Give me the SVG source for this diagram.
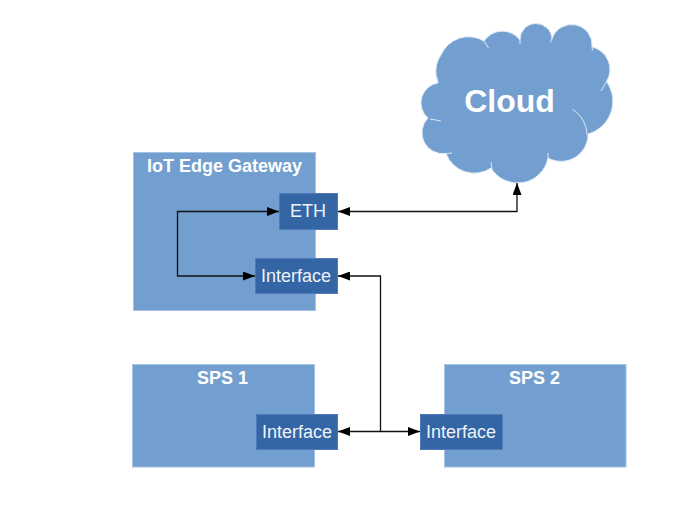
<svg xmlns="http://www.w3.org/2000/svg" width="687" height="514" viewBox="0 0 687 514">
<style>
.box{fill:#729fcf;stroke:#a5c2e3;stroke-width:1}
.port{fill:#3465a4;stroke:#4e7ab5;stroke-width:1}
text{font-family:"Liberation Sans",Arial,sans-serif;fill:#fff;text-anchor:middle}
.t{font-size:18px;font-weight:bold}
.p{font-size:18px;fill:#eef3fa}
.c{fill:none;stroke:#111;stroke-width:1.3}
.h{fill:none;stroke:#dfe9f5;stroke-width:1}
</style>
<defs>
<marker id="a" viewBox="0 0 12 9" refX="12" refY="4.500" markerWidth="12" markerHeight="9" markerUnits="userSpaceOnUse" orient="auto-start-reverse"><path d="M0 0L12 4.500L0 9z" fill="#000"/></marker>
</defs>
<g id="cloud">
<path d="M438 83C434 72 436 62 441 55A30 30 0 0 1 484 41A22 22 0 0 1 520 40A16 16 0 0 1 552 39A20.500 20.500 0 0 1 592 47A23 23 0 0 1 606.500 81.500A34 34 0 0 1 588 134A27 27 0 0 1 548 158A31 31 0 0 1 491 168A30 30 0 0 1 446 153.500A21 21 0 0 1 428 118A20 20 0 0 1 438 83Z" fill="#729fcf" stroke="#dfe9f5" stroke-width="1"/>
<path class="h" d="M484 41L488.500 48M520 40V44M552 39L550 42.500M592 47L592.500 50.500M606.500 81.500L601 91M572.500 109.500C581 114 587 125 587 135M548 153V158M491 162L492 169M446 153.500L452 153M430 119L441 121M438 83L437 77"/>
<text x="509.500" y="112" font-size="32" font-weight="bold">Cloud</text>
</g>
<g id="gateway"><rect class="box" x="133.500" y="152.500" width="182" height="158"/><text class="t" x="224.500" y="172">IoT Edge Gateway</text></g>
<g id="sps1"><rect class="box" x="132.500" y="364.500" width="182" height="102.500"/><text class="t" x="222.500" y="384">SPS 1</text></g>
<g id="sps2"><rect class="box" x="444.500" y="364.500" width="181.500" height="102.500"/><text class="t" x="534.500" y="384">SPS 2</text></g>
<g id="eth"><rect class="port" x="279.500" y="193.500" width="58" height="36"/><text class="p" x="308" y="217">ETH</text></g>
<g id="gw-interface"><rect class="port" x="255.500" y="258.500" width="82" height="35"/><text class="p" x="296" y="282">Interface</text></g>
<g id="sps1-interface"><rect class="port" x="256.500" y="414.500" width="81" height="35"/><text class="p" x="297" y="438">Interface</text></g>
<g id="sps2-interface"><rect class="port" x="420.500" y="414.500" width="82" height="35"/><text class="p" x="461" y="438">Interface</text></g>
<g id="connectors">
<path class="c" d="M338 211.500H517V183" marker-start="url(#a)" marker-end="url(#a)"/>
<path class="c" d="M279 211.500H177.500V276H255" marker-start="url(#a)" marker-end="url(#a)"/>
<path class="c" d="M338 276H380.500V431.500" marker-start="url(#a)"/>
<path class="c" d="M338 431.500H420" marker-start="url(#a)" marker-end="url(#a)"/>
</g>
</svg>
